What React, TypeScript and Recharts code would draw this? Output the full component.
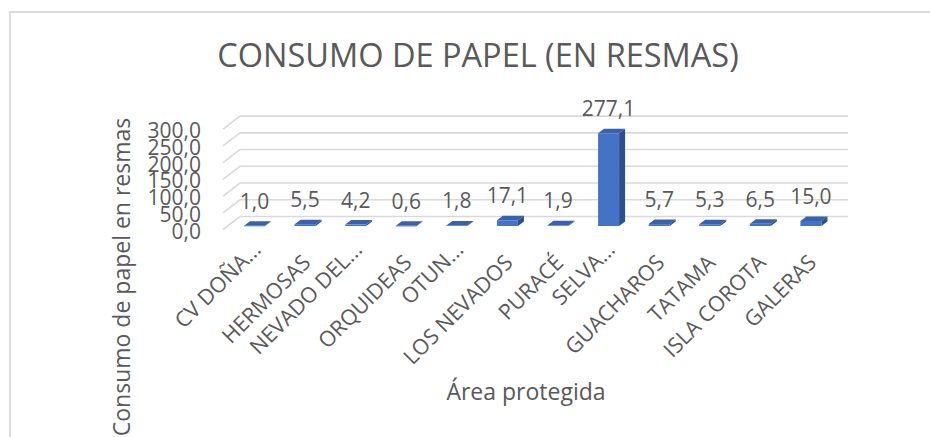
import React from 'react';
import { BarChart, Bar, XAxis, YAxis, CartesianGrid, LabelList } from 'recharts';

const areas = ['CV DOÑA...', 'HERMOSAS', 'NEVADO DEL...', 'ORQUIDEAS', 'OTUN...', 'LOS NEVADOS', 'PURACÉ', 'SELVA...', 'GUACHAROS', 'TATAMA', 'ISLA COROTA', 'GALERAS'];
const consumo = [1.0, 5.5, 4.2, 0.6, 1.8, 17.1, 1.9, 277.1, 5.7, 5.3, 6.5, 15.0];
const yTicks = [0, 50, 100, 150, 200, 250, 300];
const titleText = 'CONSUMO DE PAPEL (EN RESMAS)';
const yTitle = 'Consumo de papel en resmas';
const xTitle = 'Área protegida';

const data = areas.map((a, i) => ({ area: a, value: consumo[i] }));

const FONT = "'Open Sans', sans-serif";
const TEXT = '#595959';
const fmt = (v: number) => v.toFixed(1).replace('.', ',');

const DX = 6;
const DY = 4.5;

const Bar3D = (p: any) => {
  const { x, y, width, height } = p;
  if (x == null || y == null) return null;
  return (
    <g>
      <path d={`M${x},${y} L${x + DX},${y - DY} L${x + width + DX},${y - DY} L${x + width},${y} Z`} fill="#3862AD" />
      <path d={`M${x + width},${y} L${x + width + DX},${y - DY} L${x + width + DX},${y + height - DY} L${x + width},${y + height} Z`} fill="#2C4F8F" />
      <rect x={x} y={y} width={width} height={Math.max(height, 0.6)} fill="#4472C4" />
    </g>
  );
};

const gridLine = (p: any) => {
  const yb = p.y1 - 9.5;
  return (
    <path
      key={p.key}
      d={`M${p.x1 - 6},${yb + 13} L${p.x1 + 11},${yb} L${p.x2 + 12},${yb}`}
      stroke="#d9d9d9"
      strokeWidth={1.6}
      fill="none"
    />
  );
};

const YTick = (p: any) => (
  <text x={201} y={p.y + 5} dy="0.36em" textAnchor="end" fontFamily={FONT} fontSize={21} fill={TEXT}>
    {fmt(p.payload.value)}
  </text>
);

const XTick = (p: any) => {
  const label = String(p.payload.value);
  const truncated = label.endsWith('...');
  const tx = p.x + 7 + (truncated ? 1 : 0);
  const ty = truncated ? 251 : 264;
  return (
    <text x={tx} y={ty} textAnchor="end" transform={`rotate(-45 ${tx} ${ty})`} fontFamily={FONT} fontSize={21.5} fill={TEXT}>
      {label}
    </text>
  );
};

const ValueLabel = (p: any) => (
  <text x={p.x + p.width / 2} y={p.y - 17} textAnchor="middle" fontFamily={FONT} fontSize={21} fill={TEXT}>
    {fmt(p.value)}
  </text>
);

export default function App() {
  return (
    <div style={{ position: 'absolute', left: 0, top: 0, width: 930, height: 437, overflow: 'hidden', background: '#fff' }}>
      <div style={{ position: 'absolute', left: 9, top: 11, width: 1200, height: 1200, border: '2px solid #dcdcdc', boxSizing: 'border-box' }} />
      <div style={{ position: 'absolute', left: 0, top: 0 }}>
        <BarChart width={930} height={437} data={data} margin={{ top: 125.6, right: 94, bottom: 171, left: 0 }}>
          <CartesianGrid vertical={false} horizontal={gridLine} />
          <YAxis
            width={229}
            domain={[0, 300]}
            ticks={yTicks}
            axisLine={false}
            tickLine={false}
            tick={<YTick />}
            interval={0}
          />
          <XAxis dataKey="area" height={40} axisLine={false} tickLine={false} tick={<XTick />} interval={0} />
          <Bar dataKey="value" barSize={21} shape={<Bar3D />} isAnimationActive={false}>
            <LabelList dataKey="value" content={<ValueLabel />} />
          </Bar>
        </BarChart>
      </div>
      <svg width={930} height={437} style={{ position: 'absolute', left: 0, top: 0, pointerEvents: 'none' }}>
        <text x={478} y={67} textAnchor="middle" fontFamily={FONT} fontSize={32.5} fill={TEXT}>{titleText}</text>
        <text x={526} y={400} textAnchor="middle" fontFamily={FONT} fontSize={23} fill={TEXT}>{xTitle}</text>
        <text x={121} y={277} textAnchor="middle" dominantBaseline="central" transform="rotate(-90 121 277)" fontFamily={FONT} fontSize={23} fill={TEXT}>{yTitle}</text>
      </svg>
    </div>
  );
}
